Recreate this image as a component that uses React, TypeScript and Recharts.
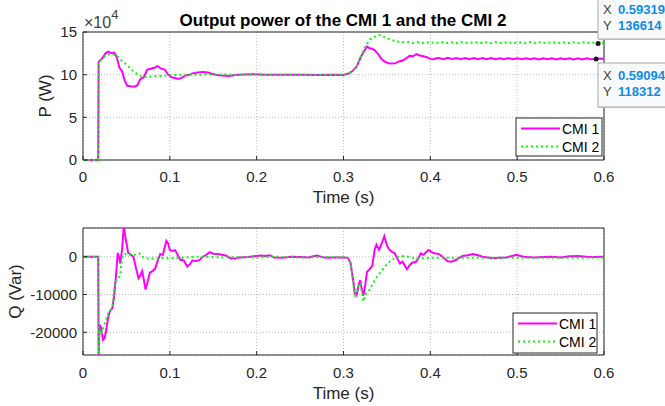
import React from 'react';
import {
  LineChart,
  Line,
  XAxis,
  YAxis,
  CartesianGrid,
  ReferenceArea,
  ReferenceDot,
} from 'recharts';

// ---------- ticks ----------
const X_TICKS = [0, 0.1, 0.2, 0.3, 0.4, 0.5, 0.6];
const P_TICKS = [0, 50000, 100000, 150000];
const Q_TICKS = [-20000, -10000, 0];
const X_DOMAIN: [number, number] = [0, 0.6];
const P_DOMAIN: [number, number] = [0, 150000];
const Q_DOMAIN: [number, number] = [-26000, 7600];

// ---------- series: [time (s), value] ----------
const P1: [number, number][] = [
  [0, 0], [0.0175, 0], [0.018, 115000], [0.022, 119000], [0.026, 125000], [0.029, 127000],
  [0.033, 125000], [0.036, 126000], [0.039, 120000], [0.042, 108000], [0.045, 104000],
  [0.048, 93000], [0.051, 87000], [0.055, 86500], [0.06, 86000], [0.063, 88000],
  [0.066, 95000], [0.07, 97000], [0.074, 106000], [0.078, 107000], [0.082, 108000],
  [0.086, 110000], [0.09, 107000], [0.094, 106000], [0.098, 100000], [0.102, 97000],
  [0.106, 96000], [0.11, 95000], [0.114, 96500], [0.118, 99000], [0.122, 99500],
  [0.126, 101500], [0.132, 102500], [0.138, 103000], [0.144, 102500], [0.148, 101000],
  [0.154, 99500], [0.16, 99000], [0.168, 98500], [0.175, 99500], [0.185, 100300],
  [0.195, 100500], [0.21, 100000], [0.23, 99800], [0.25, 100000], [0.27, 99700],
  [0.29, 99800], [0.3, 99600], [0.305, 101000], [0.31, 104000], [0.315, 109000],
  [0.32, 121000], [0.324, 128000], [0.327, 133000], [0.33, 131000], [0.333, 130500],
  [0.336, 128500], [0.34, 124000], [0.344, 118000], [0.348, 115000], [0.352, 113500],
  [0.356, 113000], [0.36, 113500], [0.364, 115500], [0.368, 116500], [0.372, 119000],
  [0.376, 122000], [0.38, 121500], [0.384, 124000], [0.388, 122500], [0.392, 121500],
  [0.396, 120500], [0.4, 118500], [0.404, 118000], [0.408, 119500],
  [0.41, 119600], [0.415, 118200], [0.42, 119700], [0.425, 118300], [0.43, 119600],
  [0.435, 118200], [0.44, 119500], [0.445, 118100], [0.45, 119500], [0.455, 118200],
  [0.46, 119400], [0.465, 118000], [0.47, 119400], [0.475, 118100], [0.48, 119300],
  [0.485, 118000], [0.49, 119400], [0.495, 118100], [0.5, 119300], [0.505, 118000],
  [0.51, 119200], [0.515, 118000], [0.52, 119300], [0.525, 117900], [0.53, 119200],
  [0.535, 118000], [0.54, 119200], [0.545, 117900], [0.55, 119100], [0.555, 118000],
  [0.56, 119200], [0.565, 117900], [0.57, 119100], [0.575, 117900], [0.58, 119100],
  [0.585, 118000], [0.59, 118300], [0.595, 119000], [0.6, 118600],
];

const P2: [number, number][] = [
  [0, 0], [0.0175, 0], [0.018, 115000], [0.022, 118000], [0.026, 122000], [0.03, 124000],
  [0.034, 124000], [0.038, 123000], [0.042, 119000], [0.046, 115000], [0.05, 112000],
  [0.054, 108000], [0.058, 104000], [0.062, 101000], [0.066, 98500], [0.07, 97200],
  [0.075, 97500], [0.08, 98000], [0.09, 98500], [0.1, 99500], [0.11, 99800],
  [0.12, 100000], [0.16, 100100], [0.2, 99900], [0.25, 100000], [0.3, 100000],
  [0.305, 101000], [0.31, 104000], [0.315, 109000], [0.32, 121000], [0.323, 129000],
  [0.327, 136000], [0.33, 141000], [0.336, 144500], [0.342, 146500], [0.346, 144500],
  [0.35, 142500], [0.355, 141000], [0.36, 139000], [0.365, 138500], [0.37, 138000],
  [0.375, 138300], [0.38, 137200], [0.385, 138200], [0.39, 137000], [0.395, 138200],
  [0.4, 137000], [0.405, 138100], [0.41, 136900], [0.415, 138200], [0.42, 137000],
  [0.425, 138100], [0.43, 136900], [0.435, 138200], [0.44, 137000], [0.445, 138100],
  [0.45, 136900], [0.455, 138200], [0.46, 137000], [0.465, 138100], [0.47, 136900],
  [0.475, 138100], [0.48, 137000], [0.485, 138200], [0.49, 136900], [0.495, 138100],
  [0.5, 137000], [0.505, 138100], [0.51, 136900], [0.515, 138200], [0.52, 137000],
  [0.525, 138100], [0.53, 136900], [0.535, 138100], [0.54, 137000], [0.545, 138200],
  [0.55, 136900], [0.555, 138100], [0.56, 137000], [0.565, 138100], [0.57, 136900],
  [0.575, 138200], [0.58, 137000], [0.585, 138100], [0.59, 137200], [0.593, 136614],
  [0.597, 137900], [0.6, 137500],
];

const Q1: [number, number][] = [
  [0, 0], [0.0175, 0], [0.018, -26500], [0.019, -18000], [0.021, -19000], [0.023, -22000],
  [0.025, -21500], [0.027, -19000], [0.029, -16000], [0.031, -14500], [0.034, -13500],
  [0.036, -10000], [0.038, -5000], [0.04, 1000], [0.042, -500], [0.043, -1800],
  [0.045, 2000], [0.047, 8000], [0.049, 5000], [0.052, 1000], [0.055, 600], [0.058, 0],
  [0.061, -3000], [0.064, -5700], [0.066, -5000], [0.068, -3800], [0.07, -6000],
  [0.072, -8700], [0.074, -7000], [0.077, -4200], [0.08, -3800], [0.083, -3200],
  [0.086, -1000], [0.089, 700], [0.092, 500], [0.096, 4200], [0.098, 3500], [0.1, 1800],
  [0.103, 1500], [0.106, 1700], [0.109, 500], [0.112, -800], [0.116, -1000],
  [0.12, -2600], [0.123, -2000], [0.126, -1000], [0.13, -1100], [0.134, -900],
  [0.138, 0], [0.142, 500], [0.146, 1200], [0.15, 800], [0.155, 700], [0.16, 500],
  [0.165, 300], [0.17, -500], [0.175, -500], [0.18, -200], [0.19, -100], [0.2, 200],
  [0.205, 300], [0.21, 200], [0.215, 400], [0.22, -200], [0.23, -300], [0.24, 0],
  [0.25, -100], [0.26, -200], [0.265, 100], [0.27, 300], [0.275, -100], [0.28, -300],
  [0.29, -200], [0.3, -200], [0.305, -300], [0.308, -1500], [0.311, -6000],
  [0.313, -9700], [0.315, -10200], [0.317, -8000], [0.319, -6200], [0.321, -8500],
  [0.323, -10300], [0.325, -7500], [0.327, -4000], [0.33, -3300], [0.333, -2500],
  [0.336, 2000], [0.338, 3200], [0.341, 1800], [0.344, 3500], [0.347, 5400],
  [0.35, 3000], [0.353, 1800], [0.356, 1300], [0.359, 900], [0.362, -500],
  [0.365, -1800], [0.368, -1300], [0.371, -2500], [0.373, -3300], [0.376, -2300],
  [0.379, -1600], [0.383, -1400], [0.386, -500], [0.389, 900], [0.392, 500],
  [0.395, 1200], [0.398, 1800], [0.401, 1300], [0.405, 900], [0.41, 700],
  [0.416, -400], [0.42, -1200], [0.424, -1300], [0.43, -800], [0.437, 200],
  [0.443, 400], [0.449, 700], [0.455, 400], [0.46, 0], [0.466, -200], [0.472, -400],
  [0.48, -300], [0.487, -200], [0.494, 200], [0.499, 500], [0.504, 200], [0.51, -100],
  [0.52, -200], [0.53, -100], [0.54, 0], [0.55, -200], [0.56, 100], [0.57, 200],
  [0.58, 0], [0.59, -100], [0.6, 0],
];

const Q2: [number, number][] = [
  [0, 0], [0.0175, 0], [0.018, -26500], [0.019, -19000], [0.021, -20500], [0.023, -19000],
  [0.026, -17000], [0.029, -15000], [0.032, -14000], [0.034, -13000], [0.036, -8000],
  [0.038, -6300], [0.041, -5800], [0.043, -4500], [0.044, -2200], [0.046, 400],
  [0.05, 900], [0.054, 500], [0.058, 400], [0.062, 700], [0.065, 900], [0.068, 0],
  [0.072, -500], [0.08, -500], [0.09, -300], [0.1, -400], [0.11, -300], [0.12, -200],
  [0.13, 0], [0.14, 0], [0.16, -200], [0.18, -100], [0.2, -200], [0.22, 0],
  [0.25, -200], [0.28, -100], [0.3, -100], [0.305, -300], [0.308, -1500],
  [0.311, -6500], [0.313, -10300], [0.315, -10000], [0.317, -7800], [0.319, -7000],
  [0.321, -9000], [0.3225, -11800], [0.325, -10500], [0.327, -9200], [0.33, -8800],
  [0.334, -7000], [0.338, -5500], [0.343, -4000], [0.348, -2500], [0.353, -1300],
  [0.358, -500], [0.363, 0], [0.37, 200], [0.38, -300], [0.39, -400], [0.4, -300],
  [0.43, -250], [0.46, -300], [0.5, -250], [0.54, -300], [0.57, -250], [0.6, -300],
];

// data tips: [x, y]
const TIP_P2: [number, number] = [0.59319, 136614];
const TIP_P1: [number, number] = [0.59094, 118312];

const SERIES_NAMES = ['CMI 1', 'CMI 2'];
const MAGENTA = '#ff00ff';
const GREEN = '#00ff00';
const AXIS_COLOR = '#262626';
const FONT = '"Liberation Sans", Arial, Helvetica, sans-serif';

const toData = (pairs: [number, number][]) => pairs.map(([t, v]) => ({ t, v }));

const tickStyle = { fontSize: 15, fill: AXIS_COLOR, fontFamily: FONT };

function YLabel(props: any) {
  const { viewBox, text, dx } = props;
  const x = viewBox.x + dx;
  const y = viewBox.y + viewBox.height / 2;
  return (
    <text
      x={x}
      y={y}
      transform={`rotate(-90 ${x} ${y})`}
      textAnchor="middle"
      dominantBaseline="central"
      fontSize={17}
      fill={AXIS_COLOR}
      fontFamily={FONT}
    >
      {text}
    </text>
  );
}

function Panel(props: {
  width: number;
  height: number;
  top: number;
  marginTop: number;
  marginBottom: number;
  xAxisHeight: number;
  xTickMargin: number;
  xLabelOffset: number;
  domain: [number, number];
  yTicks: number[];
  yFormatter: (v: number) => string;
  yLabel: string;
  yLabelDx: number;
  s1: [number, number][];
  s2: [number, number][];
  clip: boolean;
  children?: React.ReactNode;
}) {
  const d1 = toData(props.s1);
  const d2 = toData(props.s2);
  return (
    <div style={{ position: 'absolute', left: 0, top: props.top }}>
      <LineChart
        width={props.width}
        height={props.height}
        margin={{ top: props.marginTop, right: 61, bottom: props.marginBottom, left: 0 }}
      >
        <CartesianGrid stroke="#bdbdbd" strokeDasharray="1 2" />
        <XAxis
          type="number"
          dataKey="t"
          domain={X_DOMAIN}
          ticks={X_TICKS}
          allowDataOverflow
          height={props.xAxisHeight}
          axisLine={false}
          tickLine={{ stroke: AXIS_COLOR }}
          tickSize={-4}
          tickMargin={props.xTickMargin}
          tick={tickStyle}
          interval={0}
          label={{
            value: 'Time (s)',
            position: 'insideBottom',
            offset: props.xLabelOffset,
            fontSize: 17,
            fill: AXIS_COLOR,
            fontFamily: FONT,
          }}
        />
        <XAxis
          xAxisId="top"
          orientation="top"
          type="number"
          domain={X_DOMAIN}
          ticks={X_TICKS}
          allowDataOverflow
          height={0}
          axisLine={false}
          tickLine={{ stroke: AXIS_COLOR }}
          tickSize={-4}
          tick={false}
        />
        <YAxis
          type="number"
          domain={props.domain}
          ticks={props.yTicks}
          allowDataOverflow={props.clip}
          width={83}
          axisLine={false}
          tickLine={{ stroke: AXIS_COLOR }}
          tickSize={-4}
          tickMargin={10}
          tick={tickStyle}
          interval={0}
          tickFormatter={props.yFormatter}
          label={<YLabel text={props.yLabel} dx={props.yLabelDx} />}
        />
        <YAxis
          yAxisId="right"
          orientation="right"
          type="number"
          domain={props.domain}
          ticks={props.yTicks}
          allowDataOverflow
          width={0}
          axisLine={false}
          tickLine={{ stroke: AXIS_COLOR }}
          tickSize={-4}
          tick={false}
        />
        <Line
          data={d1}
          dataKey="v"
          name={SERIES_NAMES[0]}
          type="linear"
          stroke={MAGENTA}
          strokeWidth={2}
          dot={false}
          isAnimationActive={false}
        />
        <Line
          data={d2}
          dataKey="v"
          name={SERIES_NAMES[1]}
          type="linear"
          stroke={GREEN}
          strokeWidth={2}
          strokeDasharray="2 3"
          dot={false}
          isAnimationActive={false}
        />
        <ReferenceArea
          x1={X_DOMAIN[0]}
          x2={X_DOMAIN[1]}
          y1={props.domain[0]}
          y2={props.domain[1]}
          fill="none"
          stroke={AXIS_COLOR}
          strokeWidth={1}
          ifOverflow="visible"
        />
        {props.children}
      </LineChart>
    </div>
  );
}

function LegendBox(props: { x: number; y: number; w: number; h: number }) {
  const { x, y, w, h } = props;
  return (
    <g>
      <rect x={x} y={y} width={w} height={h} fill="#ffffff" stroke={AXIS_COLOR} strokeWidth={1} />
      <line x1={x + 5} x2={x + 44} y1={y + 10.5} y2={y + 10.5} stroke={MAGENTA} strokeWidth={2} />
      <text x={x + 46} y={y + 15.5} fontSize={14} fill="#000" fontFamily={FONT}>
        {SERIES_NAMES[0]}
      </text>
      <line
        x1={x + 5}
        x2={x + 44}
        y1={y + 28.5}
        y2={y + 28.5}
        stroke={GREEN}
        strokeWidth={2}
        strokeDasharray="2 3"
      />
      <text x={x + 46} y={y + 33.5} fontSize={14} fill="#000" fontFamily={FONT}>
        {SERIES_NAMES[1]}
      </text>
    </g>
  );
}

function DataTip(props: { x: number; y: number; h: number; baseline: number; tip: [number, number] }) {
  const { x, y, h, baseline, tip } = props;
  return (
    <g>
      <rect x={x + 1} y={y + 1} width={80} height={h} fill="#d0d0d0" />
      <rect x={x} y={y} width={80} height={h} fill="#f9fafc" stroke="#a8a8a8" strokeWidth={1} />
      <text x={x + 5} y={baseline} fontSize={13} fill="#404040" fontFamily={FONT}>
        X
      </text>
      <text x={x + 20} y={baseline} fontSize={13} fill="#0f8ce6" fontWeight="bold" fontFamily={FONT}>
        {tip[0].toFixed(5)}
      </text>
      <text x={x + 5} y={baseline + 16} fontSize={13} fill="#404040" fontFamily={FONT}>
        Y
      </text>
      <text x={x + 20} y={baseline + 16} fontSize={13} fill="#0f8ce6" fontWeight="bold" fontFamily={FONT}>
        {String(tip[1])}
      </text>
    </g>
  );
}

export default function App() {
  return (
    <div
      style={{
        position: 'absolute',
        left: 0,
        top: 0,
        width: 665,
        height: 406,
        background: '#ffffff',
        fontFamily: FONT,
        overflow: 'hidden',
      }}
    >
      <Panel
        width={665}
        height={210}
        top={0}
        marginTop={32}
        marginBottom={10}
        xAxisHeight={40}
        xTickMargin={15}
        xLabelOffset={-3}
        domain={P_DOMAIN}
        yTicks={P_TICKS}
        yFormatter={(v) => String(v / 10000)}
        yLabel="P (W)"
        yLabelDx={45}
        s1={P1}
        s2={P2}
        clip={false}
      >
        <ReferenceDot x={TIP_P2[0]} y={TIP_P2[1]} r={2.5} fill="#1a1a1a" stroke="none" />
        <ReferenceDot x={TIP_P1[0]} y={TIP_P1[1]} r={2.5} fill="#1a1a1a" stroke="none" />
      </Panel>
      <Panel
        width={665}
        height={206}
        top={200}
        marginTop={28}
        marginBottom={0}
        xAxisHeight={51}
        xTickMargin={16}
        xLabelOffset={7}
        domain={Q_DOMAIN}
        yTicks={Q_TICKS}
        yFormatter={(v) => String(v)}
        yLabel="Q (Var)"
        yLabelDx={15}
        s1={Q1}
        s2={Q2}
        clip={true}
      />
      <svg
        width={665}
        height={406}
        style={{ position: 'absolute', left: 0, top: 0, pointerEvents: 'none' }}
      >
        <text x={343} y={26} textAnchor="middle" fontSize={17} fontWeight="bold" fill="#000" fontFamily={FONT}>
          Output power of the CMI 1 and the CMI 2
        </text>
        <text x={84} y={28} fontSize={16} fill="#404040" fontFamily={FONT}>
          ×10<tspan dy={-8.7} fontSize={13}>4</tspan>
        </text>
        <LegendBox x={516} y={118} w={86} h={38} />
        <LegendBox x={513} y={313} w={84} h={40} />
        <DataTip x={598} y={-3} h={42} baseline={14} tip={TIP_P2} />
        <DataTip x={598} y={63} h={44} baseline={80} tip={TIP_P1} />
      </svg>
    </div>
  );
}
